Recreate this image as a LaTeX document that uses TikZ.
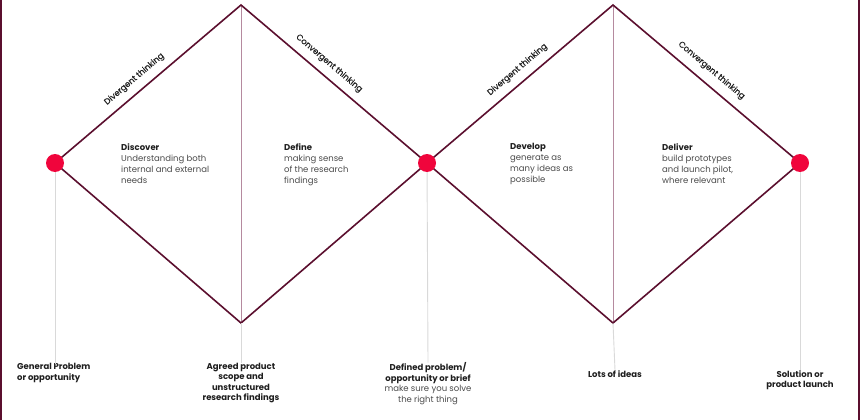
\documentclass[tikz,border=0pt]{standalone}
\usepackage{fontspec}
\setmainfont{Poppins}
\newfontfamily\thinkfont[FakeBold=0.5]{Poppins}
\definecolor{maroon}{HTML}{5B0F2E}
\definecolor{mauve}{HTML}{B58A9F}
\definecolor{dotred}{HTML}{F0053C}
\definecolor{stem}{HTML}{D9D9D9}
\definecolor{ink}{HTML}{1E1E1E}
\definecolor{body}{HTML}{4A4A4A}
\tikzset{
  edge/.style={draw=maroon,line width=1.6pt},
  divider/.style={draw=mauve,line width=0.9pt},
  stemline/.style={draw=stem,line width=0.9pt},
  dot/.style={circle,fill=dotred,minimum size=18pt,inner sep=0pt},
  think/.style={font=\fontsize{8.3}{10}\thinkfont,text=ink,inner sep=0pt},
  phase/.style={anchor=north west,align=left,inner sep=0pt,text=body,
    font=\fontsize{8.5}{11}\selectfont},
  outcome/.style={anchor=north,align=center,inner sep=0pt,text=ink,
    font=\fontsize{8.5}{10.5}\selectfont\bfseries}
}
\begin{document}
\begin{tikzpicture}[x=1pt,y=-1pt]
\useasboundingbox (0,0) rectangle (860,420);
\draw[draw=maroon,line width=2pt] (1,0)--(1,420);
\draw[draw=maroon,line width=2pt] (858.5,0)--(858.5,420);
\coordinate (p1) at (55,163);
\coordinate (p2) at (427,163);
\coordinate (p3) at (800,163);
\coordinate (t1) at (241,5);
\coordinate (b1) at (241,323);
\coordinate (t2) at (613,5);
\coordinate (b2) at (613,323);
\draw[divider] (t1)--(b1);
\draw[divider] (t2)--(b2);
\draw[edge,line join=miter] (p1)--(t1)--(p2)--(b1)--cycle;
\draw[edge,line join=miter] (p2)--(t2)--(p3)--(b2)--cycle;
\path (p1)--node[think,pos=0.47,sloped,above=8pt]{Divergent thinking}(t1);
\path (t1)--node[think,pos=0.43,sloped,above=8pt]{Convergent thinking}(p2);
\path (p2)--node[think,pos=0.53,sloped,above=8pt]{Divergent thinking}(t2);
\path (t2)--node[think,pos=0.48,sloped,above=9pt]{Convergent thinking}(p3);
\node[phase] (discover) at (121,143.5) {{\color{ink}\bfseries Discover}\\Understanding both\\internal and external\\needs};
\node[phase] (define) at (284,143.5) {{\color{ink}\bfseries Define}\\making sense\\of the research\\findings};
\node[phase] (develop) at (510,143.5) {{\color{ink}\bfseries Develop}\\generate as\\many ideas as\\possible};
\node[phase] (deliver) at (662,143.5) {{\color{ink}\bfseries Deliver}\\build prototypes\\and launch pilot,\\where relevant};
\node[outcome,anchor=north west,align=left] (general) at (17,363.5) {General Problem\\or opportunity};
\node[outcome] (agreed) at (241,363) {Agreed product\\scope and\\unstructured\\research findings};
\node[outcome] (defined) at (428,362.5) {Defined problem/\\opportunity or brief\\{\mdseries\color{body}make sure you solve}\\{\mdseries\color{body}the right thing}};
\node[outcome] (lots) at (615,370) {Lots of ideas};
\node[outcome] (solution) at (800,370) {Solution or\\product launch};
\draw[stemline] (p1)--(p1|-general.north);
\draw[stemline] (b1)--(agreed.north);
\draw[stemline] (p2)--(defined.north);
\draw[stemline] (b2)--(lots.north);
\draw[stemline] (p3)--(solution.north);
\node[dot] (gp) at (p1) {};
\node[dot] (dp) at (p2) {};
\node[dot] (sl) at (p3) {};
\end{tikzpicture}
\end{document}
